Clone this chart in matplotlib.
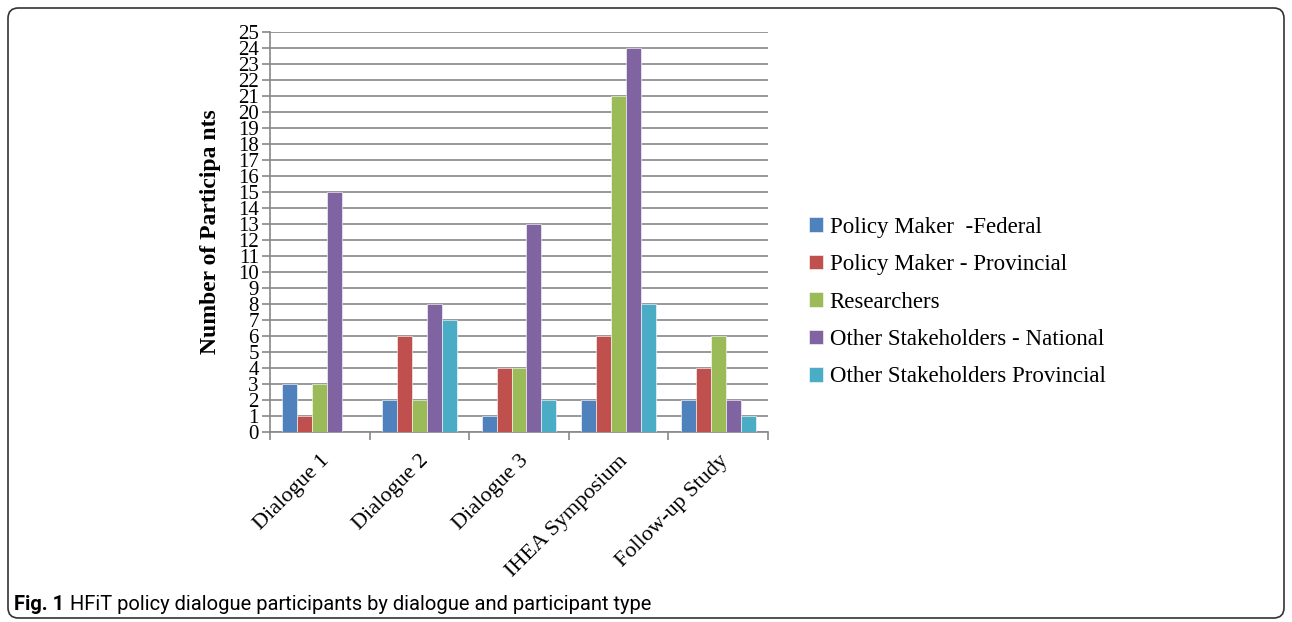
import numpy as np
import matplotlib.pyplot as plt
from matplotlib.patches import FancyBboxPatch

categories = ['Dialogue 1', 'Dialogue 2', 'Dialogue 3', 'IHEA Symposium', 'Follow-up Study']
series_names = ['Policy Maker  -Federal', 'Policy Maker - Provincial', 'Researchers',
                'Other Stakeholders - National', 'Other Stakeholders Provincial']
federal = [3, 2, 1, 2, 2]
provincial = [1, 6, 4, 6, 4]
researchers = [3, 2, 4, 21, 6]
other_national = [15, 8, 13, 24, 2]
other_provincial = [0, 7, 2, 8, 1]
colors = ['#4F81BD', '#C0504D', '#9BBB59', '#8064A2', '#4BACC6']

W, H = 1292, 622
fig = plt.figure(figsize=(W / 100, H / 100), dpi=100)

# rounded frame around the figure
frame = FancyBboxPatch((8 / W, 4 / H), 1276 / W, 610 / H,
                       boxstyle='round,pad=0,rounding_size=0.008',
                       mutation_aspect=W / H,
                       transform=fig.transFigure, facecolor='none',
                       edgecolor='#333333', linewidth=1.2)
fig.patches.append(frame)

ax = fig.add_axes([270 / W, 1 - 432 / H, 498 / W, 400 / H])

series = [federal, provincial, researchers, other_national, other_provincial]
n = len(series)
bw = 0.15
x = np.arange(len(categories)) + 0.5
for i, (vals, name, c) in enumerate(zip(series, series_names, colors)):
    ax.bar(x + (i - (n - 1) / 2) * bw, vals, bw, color=c, label=name,
           edgecolor='white', linewidth=0.4, zorder=3)

ax.set_xlim(0, len(categories))
ax.set_ylim(0, 25)
ax.set_yticks(range(0, 26))
ax.set_yticklabels([str(v) for v in range(0, 26)], family='Liberation Serif', fontsize=15)
ax.set_xticks(range(0, len(categories) + 1))
ax.set_xticklabels([])
ax.set_xticks(x, minor=True)
ax.set_xticklabels(categories, minor=True, rotation=45, ha='right', va='top',
                   rotation_mode='anchor', family='Liberation Serif', fontsize=16)
ax.tick_params(axis='x', which='minor', length=0, pad=14)
ax.tick_params(axis='x', which='major', length=6, color='#888888', width=1.2)
ax.tick_params(axis='y', length=6, color='#888888', width=1.2, pad=2)
ax.grid(axis='y', color='#888888', linewidth=1.2, zorder=0)
for s in ['top', 'right']:
    ax.spines[s].set_visible(False)
for s in ['left', 'bottom']:
    ax.spines[s].set_color('#888888')
    ax.spines[s].set_linewidth(1.2)

ax.set_ylabel('Number of Participa nts', family='Liberation Serif', fontweight='bold',
              fontsize=17, labelpad=12)

fig.legend(loc='center left', bbox_to_anchor=(800 / W, 1 - 302 / H), frameon=False,
           prop={'family': 'Liberation Serif', 'size': 16.5}, handlelength=0.6,
           handleheight=0.6, handletextpad=0.3, labelspacing=0.72, borderaxespad=0)

fig.text(14 / W, 1 - 610 / H, 'Fig. 1', fontweight='bold', family='Roboto',
         fontsize=14.5, va='baseline')
fig.text(70 / W, 1 - 610 / H, 'HFiT policy dialogue participants by dialogue and participant type',
         family='Roboto', fontsize=14.5, va='baseline')

fig.savefig('out.png', dpi=100)
